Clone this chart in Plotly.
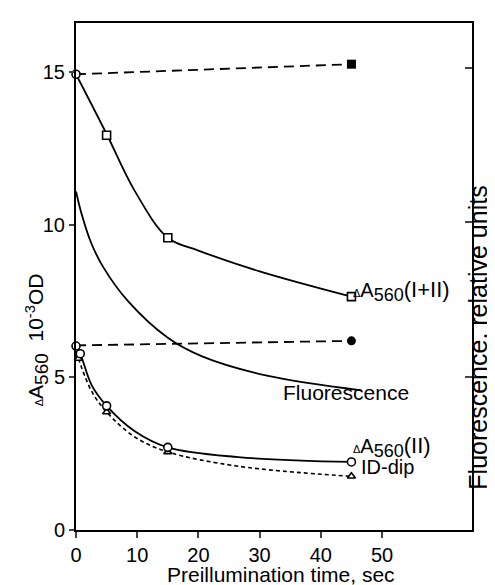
import plotly.graph_objects as go

# ---------------- data ----------------
# dark controls (dashed lines, open start / filled end)
dark_t = [0, 45]
dark_I_II = [14.94, 15.27]
dark_II = [6.05, 6.20]

# ΔA560(I+II): measured points (open squares) and drawn curve
sq_t = [5, 15, 45]
sq_v = [12.94, 9.58, 7.65]
curve_I_II_t = [0, 5.1, 9.5, 15, 20, 30, 45]
curve_I_II_v = [14.94, 12.94, 11.15, 9.58, 9.16, 8.48, 7.65]

# Fluorescence (right axis, relative units) drawn curve
fl_t = [0, 1.0, 2.5, 4.5, 8.5, 15, 20.5, 31.4, 46.6]
fl_v = [11.1, 10.3, 9.4, 8.6, 7.5, 6.3, 5.7, 5.05, 4.58]

# ΔA560(II): measured points (open circles) and drawn curve
circ_t = [0, 0.7, 5, 15, 45]
circ_v = [6.03, 5.78, 4.07, 2.71, 2.23]
curve_II_t = [0, 0.7, 2.55, 5, 9.6, 15, 26.5, 45]
curve_II_v = [6.03, 5.78, 4.75, 4.07, 3.24, 2.71, 2.39, 2.23]

# ID-dip: measured points (open triangles) and dashed curve
tri_t = [0.4, 5, 15, 45]
tri_v = [5.62, 3.87, 2.56, 1.76]
dip_t = [0.4, 2.55, 5, 9.6, 15, 26.5, 45]
dip_v = [5.62, 4.55, 3.87, 3.05, 2.56, 2.09, 1.76]

x_ticks = [0, 10, 20, 30, 40, 50]
y_ticks = [0, 5, 10, 15]
y2_ticks = [5.02, 10.1, 15.13]

FONT = "Liberation Sans, Arial, Helvetica, sans-serif"
BLACK = "black"

fig = go.Figure()

# dashed dark-control lines
for vals in (dark_I_II, dark_II):
    fig.add_trace(go.Scatter(x=dark_t, y=vals, mode="lines",
                             line=dict(color=BLACK, width=1.8, dash="10px,6px"),
                             showlegend=False, hoverinfo="skip"))

# solid curves
fig.add_trace(go.Scatter(x=curve_I_II_t, y=curve_I_II_v, mode="lines",
                         line=dict(color=BLACK, width=1.8, shape="spline"),
                         showlegend=False))
fig.add_trace(go.Scatter(x=fl_t, y=fl_v, mode="lines", yaxis="y2",
                         line=dict(color=BLACK, width=1.8, shape="spline"),
                         showlegend=False))
fig.add_trace(go.Scatter(x=curve_II_t, y=curve_II_v, mode="lines",
                         line=dict(color=BLACK, width=1.8, shape="spline"),
                         showlegend=False))
fig.add_trace(go.Scatter(x=dip_t, y=dip_v, mode="lines",
                         line=dict(color=BLACK, width=1.6, shape="spline", dash="4px,3px"),
                         showlegend=False))

# markers
open_line = dict(color=BLACK, width=1.6)
fig.add_trace(go.Scatter(x=sq_t, y=sq_v, mode="markers", cliponaxis=False,
                         marker=dict(symbol="square", size=8, color="white", line=open_line),
                         showlegend=False))
fig.add_trace(go.Scatter(x=tri_t, y=tri_v, mode="markers", cliponaxis=False,
                         marker=dict(symbol="triangle-up", size=7, color="white", line=open_line),
                         showlegend=False))
fig.add_trace(go.Scatter(x=circ_t, y=circ_v, mode="markers", cliponaxis=False,
                         marker=dict(symbol="circle", size=8, color="white", line=open_line),
                         showlegend=False))
fig.add_trace(go.Scatter(x=dark_t[:1], y=dark_I_II[:1], mode="markers", cliponaxis=False,
                         marker=dict(symbol="circle", size=8, color="white", line=open_line),
                         showlegend=False))
fig.add_trace(go.Scatter(x=dark_t[1:], y=dark_I_II[1:], mode="markers", cliponaxis=False,
                         marker=dict(symbol="square", size=9, color=BLACK),
                         showlegend=False))
fig.add_trace(go.Scatter(x=dark_t[1:], y=dark_II[1:], mode="markers", cliponaxis=False,
                         marker=dict(symbol="circle", size=9, color=BLACK),
                         showlegend=False))

lab_font = dict(family=FONT, size=20, color=BLACK)
small_delta = "<span style='font-size:11px'>Δ</span>"
sub560 = "<sub><span style='font-size:18px'>560</span></sub>"
annots = [
    dict(x=45.0, y=7.85, xref="x", yref="y", xanchor="left", yanchor="middle",
         text=small_delta + "A" + sub560 + "<span style='font-size:22px'>(I+II)</span>"),
    dict(x=54.7, y=4.5, xref="x", yref="y", xanchor="right", yanchor="middle",
         text="Fluorescence", font=dict(family=FONT, size=21, color=BLACK)),
    dict(x=45.0, y=2.72, xref="x", yref="y", xanchor="left", yanchor="middle",
         text=small_delta + "A" + sub560 + "<span style='font-size:22px'>(II)</span>"),
    dict(x=46.3, y=2.08, xref="x", yref="y", xanchor="left", yanchor="middle",
         text="ID-dip"),
]
for a in annots:
    a.setdefault("font", lab_font)
    a.update(showarrow=False)
    fig.add_annotation(**a)

# axis titles as annotations
fig.add_annotation(x=0.518, y=-0.087, xref="paper", yref="paper", showarrow=False,
                   xanchor="center", yanchor="middle",
                   text="Preillumination time, sec", font=dict(family=FONT, size=21, color=BLACK))
fig.add_annotation(x=-0.10, y=0.375, xref="paper", yref="paper", showarrow=False,
                   xanchor="center", yanchor="middle", textangle=-90,
                   text=small_delta + "A<sub><span style='font-size:19px'>560</span></sub>  10<sup>-3</sup>OD",
                   font=dict(family=FONT, size=21, color=BLACK))
fig.add_annotation(x=1.016, y=0.38, xref="paper", yref="paper", showarrow=False,
                   xanchor="center", yanchor="middle", textangle=-90,
                   text="Fluorescence, relative units",
                   font=dict(family=FONT, size=25, color=BLACK))

YR = [0, 16.62]
fig.update_layout(
    width=495, height=585,
    margin=dict(l=68, r=31, t=15, b=63),
    paper_bgcolor="white", plot_bgcolor="white",
    font=dict(family=FONT, size=20, color=BLACK),
    xaxis=dict(range=[0, 64.7], tickvals=x_ticks, ticks="outside", ticklen=6, tickwidth=1.8,
               showline=True, linewidth=2, linecolor=BLACK, mirror=True,
               showgrid=False, zeroline=False, tickfont=dict(family=FONT, size=20, color=BLACK)),
    yaxis=dict(range=YR, tickvals=y_ticks, ticks="outside", ticklen=5, tickwidth=1.8,
               showline=True, linewidth=2, linecolor=BLACK,
               showgrid=False, zeroline=False, tickfont=dict(family=FONT, size=20, color=BLACK)),
    yaxis2=dict(range=YR, overlaying="y", side="right", tickvals=y2_ticks, ticks="inside",
                ticklen=7, tickwidth=1.8, showticklabels=False,
                showline=True, linewidth=2, linecolor=BLACK,
                showgrid=False, zeroline=False),
)

fig.write_html("out.html")
